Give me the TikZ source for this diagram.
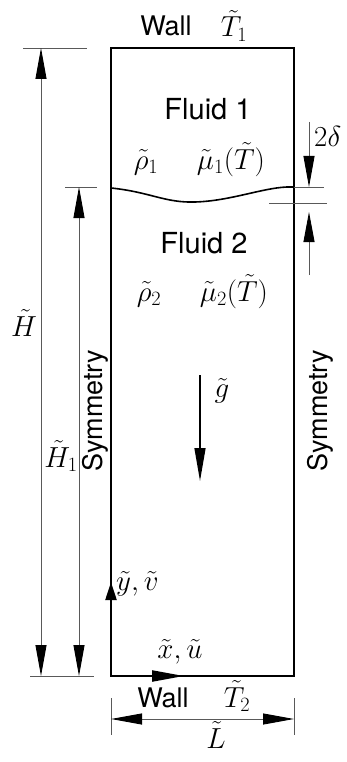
\RequirePackage{fix-cm}
\documentclass[tikz,border=0pt]{standalone}
\usepackage{fontspec}
\setsansfont{TeX Gyre Heros}
\usetikzlibrary{arrows.meta}
\begin{document}
\begin{tikzpicture}[x=1pt,y=-1pt,
  wall/.style={line width=2.2pt, line cap=rect},
  dimline/.style={line width=0.9pt, draw=black!65},
  ext/.style={line width=0.9pt, draw=black!65},
  dtip/.style={Triangle[length=#1,width=11pt,color=black]},
  both/.style={{Triangle[length=31pt,width=11pt,color=black]}-{Triangle[length=31pt,width=11pt,color=black]}},
  onetip/.style={-{Triangle[length=#1,width=11pt,color=black]}},
  sanslbl/.style={font=\sffamily\fontsize{27}{30}\selectfont, inner sep=0pt},
  fluidlbl/.style={font=\sffamily\fontsize{29}{32}\selectfont, inner sep=0pt, anchor=base},
  mathlbl/.style={font=\fontsize{29}{32}\selectfont, inner sep=0pt},
]
\useasboundingbox (0,0) rectangle (346,762);
\fill[white] (0,0) rectangle (346,762);

% box corners
\coordinate (TL) at (111,48);
\coordinate (TR) at (294,48);
\coordinate (BL) at (111,676);
\coordinate (BR) at (294,676);
\coordinate (IL) at (111,188);
\coordinate (IR) at (294,187);

% box
\draw[wall] (BL) -- (TL) -- (TR) -- (BR) -- cycle;
% interface
\draw[line width=1.6pt] (IL) .. controls (150,192) and (165,203) .. (195,202)
  .. controls (230,201) and (262,188) .. (287,187) -- (IR);

% axes arrows
\coordinate (yv) at (111,582);
\coordinate (xu) at (184,676);
\draw[wall, line cap=butt, onetip=18pt] (BL) -- (yv);
\draw[wall, line cap=butt, onetip=32pt] (BL) -- (xu);
\node[mathlbl, anchor=base west] (yvl) at (116,590) {$\tilde y,\tilde v$};
\node[mathlbl, anchor=base] (xul) at (180,658) {$\tilde x,\tilde u$};

% H dimension
\coordinate (Ha) at (41,48);
\coordinate (Hb) at (41,676);
\draw[ext] (23,48) -- (87,48);
\draw[ext] (30,676) -- (94,676);
\draw[dimline, both] (Ha) -- (Hb);
\node[mathlbl, anchor=base] (Hl) at (24,336) {$\tilde H$};

% H1 dimension
\coordinate (H1a) at (79,187);
\coordinate (H1b) at (79,676);
\draw[ext] (65,187) -- (97,187);
\draw[dimline, both] (H1a) -- (H1b);
\node[mathlbl, anchor=base] (H1l) at (61,467) {$\tilde H_1$};

% L dimension
\coordinate (La) at (111,719);
\coordinate (Lb) at (294,719);
\draw[ext] (111,698) -- (111,735);
\draw[ext] (294,698) -- (294,735);
\draw[dimline, both] (La) -- (Lb);
\node[mathlbl, anchor=base] (Ll) at (216,748) {$\tilde L$};

% 2 delta
\coordinate (da0) at (309,122);
\coordinate (da1) at (309,187);
\coordinate (db0) at (309,275);
\coordinate (db1) at (309,212);
\draw[ext] (IR) -- (324,187);
\draw[ext] (269,203) -- (327,203);
\draw[dimline, onetip=31pt] (da0) -- (da1);
\draw[dimline, onetip=30pt] (db0) -- (db1);
\node[mathlbl, anchor=base west] (dl) at (314,147) {$2\delta$};

% gravity
\coordinate (g0) at (200,375);
\coordinate (g1) at (200,481);
\draw[line width=1.4pt, onetip=33pt] (g0) -- (g1);
\node[mathlbl, anchor=base] (gl) at (222,397) {$\tilde g$};

% labels
\node[sanslbl, anchor=base] (w1) at (166,36) {Wall};
\node[mathlbl, anchor=base] (t1) at (234,37) {$\tilde T_1$};
\node[sanslbl, anchor=base] (w2) at (163,707) {Wall};
\node[mathlbl, anchor=base] (t2) at (237,707) {$\tilde T_2$};

\node[fluidlbl] (f1) at (208,120) {Fluid 1};
\node[mathlbl, anchor=base] (r1) at (146,169) {$\tilde\rho_1$};
\node[mathlbl, anchor=base] (m1) at (231,169) {$\tilde\mu_1(\tilde T)$};
\node[fluidlbl] (f2) at (204,253) {Fluid 2};
\node[mathlbl, anchor=base] (r2) at (149,301) {$\tilde\rho_2$};
\node[mathlbl, anchor=base] (m2) at (234,301) {$\tilde\mu_2(\tilde T)$};

\node[sanslbl, rotate=90, anchor=base] (s1) at (102,411) {Symmetry};
\node[sanslbl, rotate=90, anchor=base] (s2) at (327,411) {Symmetry};
\end{tikzpicture}
\end{document}
